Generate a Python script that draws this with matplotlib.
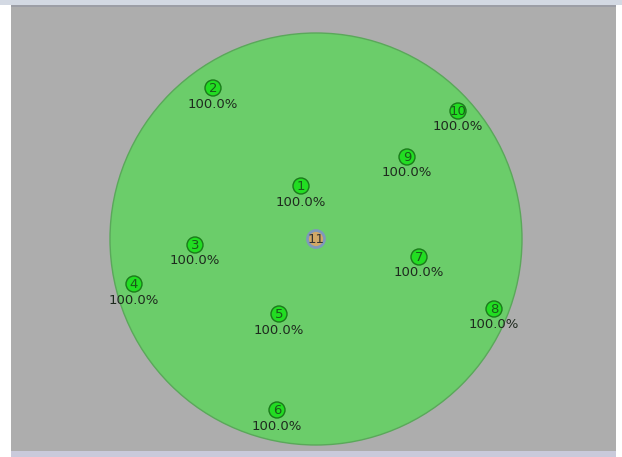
import matplotlib.pyplot as plt
from matplotlib.patches import Circle, Rectangle

# node positions (screen pixels) and labels
node_ids = ['1', '2', '3', '4', '5', '6', '7', '8', '9', '10']
node_x = [301, 213, 195, 134, 279, 277, 419, 494, 407, 458]
node_y = [186, 88, 245, 284, 314, 410, 257, 309, 157, 111]
node_pct = [100.0] * 10

center_id = '11'
center_x, center_y = 316, 239
range_radius = 206

fig = plt.figure(figsize=(6.22, 4.57), dpi=100)
fig.patch.set_facecolor('white')
ax = fig.add_axes([0, 0, 1, 1])
ax.set_xlim(0, 622)
ax.set_ylim(457, 0)
ax.axis('off')

# window frame
ax.add_patch(Rectangle((0, 0), 622, 5, facecolor='#d3d9e3', edgecolor='none'))
ax.add_patch(Rectangle((11, 5), 605, 2, facecolor='#9c9ea6', edgecolor='none'))
ax.add_patch(Rectangle((11, 7), 605, 444, facecolor='#adadad', edgecolor='none'))
ax.add_patch(Rectangle((11, 451), 605, 6, facecolor='#c9cadb', edgecolor='none'))

# transmission range
ax.add_patch(Circle((center_x, center_y), range_radius, facecolor='#6bcd6a',
                    edgecolor='#5aa85a', linewidth=1, zorder=2))

for nid, x, y, p in zip(node_ids, node_x, node_y, node_pct):
    ax.add_patch(Circle((x, y), 8, facecolor='#22dd22', edgecolor='#1a7a1a',
                        linewidth=1, zorder=3))
    ax.text(x, y + 0.5, nid, ha='center', va='center', fontsize=9.5,
            color='#1a5a1a', zorder=4)
    ax.text(x, y + 16, '%.1f%%' % p, ha='center', va='center', fontsize=9.5,
            color='#1e2a1e', zorder=4)

ax.add_patch(Circle((center_x, center_y), 8.5, facecolor='#d2a866', edgecolor='#7f98bb',
                    linewidth=2, zorder=3))
ax.text(center_x, center_y + 0.5, center_id, ha='center', va='center', fontsize=9.5,
        color='#333333', zorder=4)

fig.savefig('out.png', dpi=100)
